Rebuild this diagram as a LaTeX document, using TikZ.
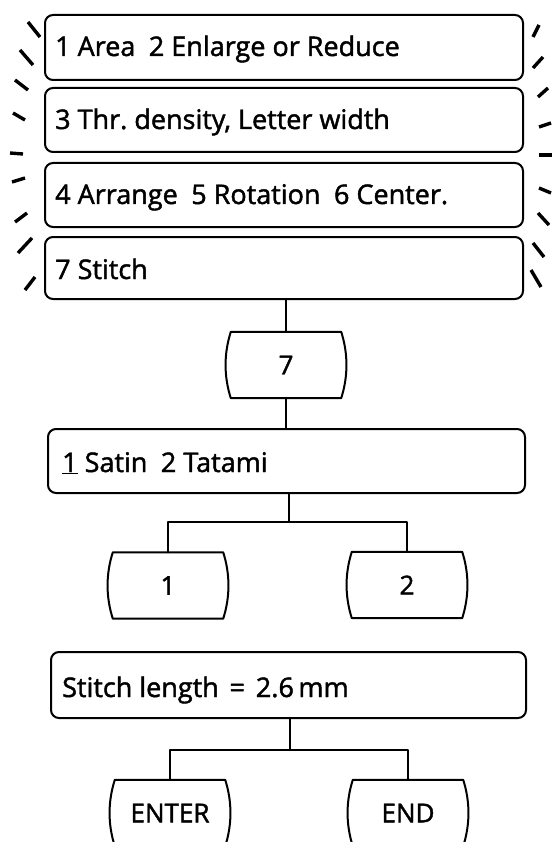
\documentclass[tikz,border=0pt]{standalone}
\usepackage{fontspec}
\setmainfont{Open Sans}[FakeBold=1.6]
\frenchspacing
\newcommand\keyoutline[1]{%
  \draw[line] (#1.north west) -- (#1.north east)
    .. controls +(7pt,-22pt) and +(7pt,22pt) .. (#1.south east)
    -- (#1.south west)
    .. controls +(-7pt,22pt) and +(-7pt,-22pt) .. (#1.north west) -- cycle;}
\begin{document}
\begin{tikzpicture}[x=1pt,y=-1pt,
  line/.style={line width=2pt, line cap=round, line join=round},
  mbox/.style={draw, line width=2pt, rounded corners=8pt, inner sep=0pt},
  keynode/.style={minimum width=110pt, minimum height=66pt, inner sep=0pt, font=\fontsize{26}{30}\selectfont},
  lbl/.style={anchor=base west, inner sep=0pt, font=\fontsize{27}{30}\selectfont},
  flare/.style={line width=3.4pt, line cap=butt}]
\clip (0,0) rectangle (552,842);
% menu boxes
\node[mbox, minimum width=478pt, minimum height=65pt] (b1) at (284,47.5) {};
\node[mbox, minimum width=478pt, minimum height=64pt] (b2) at (284,120) {};
\node[mbox, minimum width=478pt, minimum height=64pt] (b3) at (284,195) {};
\node[mbox, minimum width=478pt, minimum height=62pt] (b4) at (284,268) {};
\node[mbox, minimum width=477pt, minimum height=64pt] (b5) at (286.5,461) {};
\node[mbox, minimum width=475pt, minimum height=66pt] (b6) at (288.5,685) {};
% labels
\node[lbl] (t1) at (55,56) {1 Area\hspace{0.5em}2 Enlarge or Reduce};
\node[lbl] (t2) at (55,129) {3 Thr. density, Letter width};
\node[lbl] (t3) at (55,204) {4 Arrange\hspace{0.5em}5 Rotation\hspace{0.5em}6 Center.};
\node[lbl] (t4) at (55,279) {7 Stitch};
\node[lbl] (t5) at (62,472) {\underline{1} Satin\hspace{0.5em}2 Tatami};
\node[lbl] (t6) at (62,697) {Stitch length\hspace{0.4em}=\hspace{0.4em}2.6\,mm};
% keys
\node[keynode] (k7) at (286,365) {7};
\node[keynode] (k1) at (168,585.5) {1};
\node[keynode] (k2) at (407,585) {2};
\node[keynode] (kE) at (170,813) {ENTER};
\node[keynode] (kD) at (408,813) {END};
\keyoutline{k7}
\keyoutline{k1}
\keyoutline{k2}
\keyoutline{kE}
\keyoutline{kD}
% connectors
\draw[line] (k7.north) -- (k7.north |- b4.south);
\draw[line] (k7.south) -- (k7.south |- b5.north);
\coordinate (j5) at (289,522);
\draw[line] (j5 |- b5.south) -- (j5);
\draw[line] (k1.north) |- (j5) -| (k2.north);
\coordinate (j6) at (290,750);
\draw[line] (j6 |- b6.south) -- (j6);
\draw[line] (kE.north) |- (j6) -| (kD.north);
% flare marks
\foreach \a/\b/\c/\d in {28/22/40/37, 20/50/33/65, 15/80/28/90, 13/113/25/120,
  10/153/23/154, 12/182/25/178, 15/222/27/213, 18/253/32/238, 25/290/35/277,
  533/37/539/25, 533/68/543/57, 538/97/548/88, 539/127/551/123, 539/155/552/155,
  539/188/551/193, 538/213/549/225, 533/243/544/257, 531/270/541/287}
  \draw[flare] (\a,\b) -- (\c,\d);
\end{tikzpicture}
\end{document}
